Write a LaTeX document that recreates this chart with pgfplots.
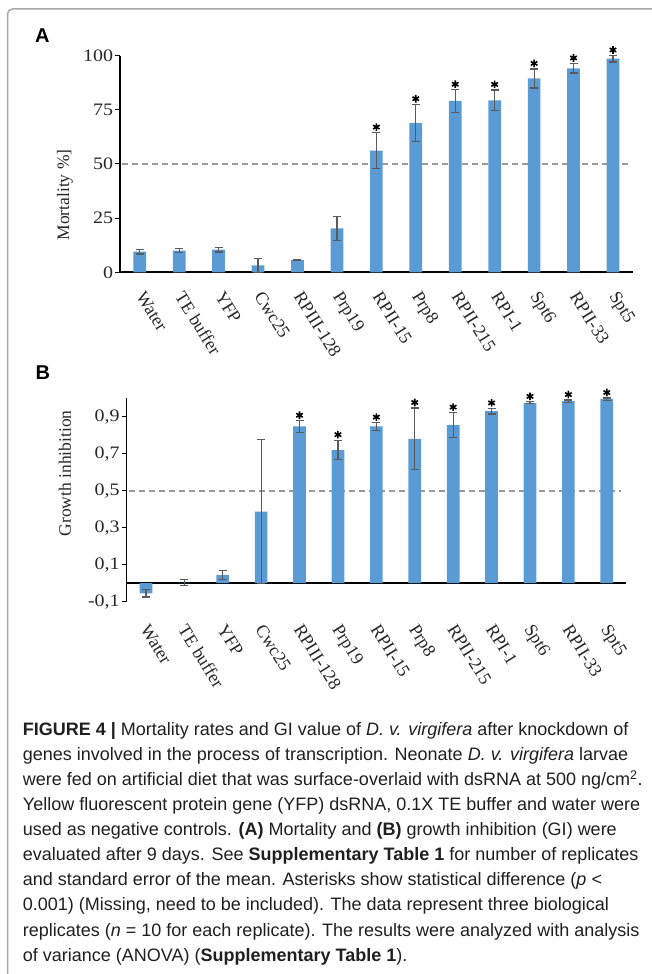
\documentclass[border=0pt]{standalone}
\usepackage{fontspec}
\setmainfont{Liberation Serif}
\newfontfamily\tickfont[FakeStretch=1.14]{Liberation Serif}
\newfontfamily\capfont{Liberation Sans}
\newfontfamily\panelfont{Liberation Sans}
\usepackage{pgfplots}
\pgfplotsset{compat=1.18}
\usepackage{pgfplotstable}
\definecolor{barblue}{HTML}{5B9BD5}
\definecolor{errgray}{HTML}{5A5A5A}
\definecolor{dashgray}{HTML}{999999}
\definecolor{framegray}{HTML}{A8A8A8}

% Panel A: mortality (%)
\pgfplotstableread{
x y e
0 9.5 1.1
1 10.0 0.9
2 10.5 1.1
3 3.2 3.3
4 5.7 0.2
5 20.3 5.6
6 56.2 8.3
7 68.9 8.7
8 79.1 5.2
9 79.4 4.8
10 89.5 4.4
11 94.2 2.2
12 98.6 1.5
}\mortality
\pgfplotstableread{
x top
6 64.5
7 77.6
8 84.3
9 84.2
10 93.9
11 96.4
12 100.1
}\mortstar

% Panel B: growth inhibition
\pgfplotstableread{
x y e
0 -0.055 0.020
1 0.002 0.016
2 0.043 0.025
3 0.387 0.390
4 0.847 0.031
5 0.721 0.052
6 0.847 0.021
7 0.780 0.167
8 0.854 0.068
9 0.930 0.015
10 0.975 0.005
11 0.984 0.006
12 0.995 0.006
}\growth
\pgfplotstableread{
x top
4 0.878
5 0.773
6 0.868
7 0.947
8 0.922
9 0.945
10 0.980
11 0.990
12 1.001
}\growthstar

\pgfplotsset{
  gistyle/.style={
    scale only axis, clip=false,
    xmin=-0.5, xmax=12.5,
    xtick={0,...,12},
    xticklabels={Water, TE buffer, YFP, Cwc25, RPIII-128, Prp19, RPII-15, Prp8, RPII-215, RPI-1, Spt6, RPII-33, Spt5},
    axis x line*=bottom, axis y line*=left,
    xtick style={draw=none},
    ytick style={black, line width=1bp},
    tick align=outside, major tick length=5bp,
    y axis line style={line width=1.2bp},
    yticklabel style={font=\tickfont\fontsize{17.5bp}{20bp}\selectfont, text=black!85, xshift=1.5bp},
    xticklabel style={font=\fontsize{18bp}{20bp}\selectfont, text=black!85},
    label style={font=\fontsize{17.5bp}{20bp}\selectfont, text=black!85},
  },
  barstyle/.style={
    ybar, bar width=12.7bp, fill=barblue, draw=none,
    error bars/.cd, y dir=both, y explicit,
    error bar style={errgray, line width=1.2bp},
    error mark options={errgray, line width=1.2bp, mark size=4bp, rotate=90},
  },
  starstyle/.style={only marks, mark=asterisk, mark size=3.8bp, line width=1.6bp, black,
    mark options={yshift=5.5bp}},
}

\begin{document}
\begin{tikzpicture}
\useasboundingbox (0bp,0bp) rectangle (652bp,974bp);
\draw[framegray, line width=1.5bp, rounded corners=5bp] (7.5bp,-20bp) -- (7.5bp,965bp) -- (700bp,965bp);

\node[anchor=base west, inner sep=0pt, font=\panelfont\bfseries\fontsize{20bp}{20bp}\selectfont] at (35bp,931.3bp) {A};
\node[anchor=base west, inner sep=0pt, font=\panelfont\bfseries\fontsize{20bp}{20bp}\selectfont] at (35.5bp,594bp) {B};

% Panel A
\begin{axis}[gistyle,
  at={(120bp,701.7bp)}, anchor=south west,
  width=512.7bp, height=216.6bp,
  ymin=0, ymax=100,
  ytick={0,25,50,75,100},
  yticklabels={0,25,50,75,100},
  x axis line style={line width=2bp},
  xticklabel style={xshift=6bp, yshift=-12.5bp, rotate=-58, anchor=north west, inner sep=0pt},
  ylabel={Mortality \%]},
  ylabel style={at={(rel axis cs:0,0.357)}, anchor=center, yshift=55bp},
]
\addplot[dashgray, line width=1.8bp, dash pattern=on 6bp off 4bp] coordinates {(-0.45,50) (12.38,50)};
\addplot[barstyle] table[x=x, y=y, y error=e] \mortality;
\addplot[starstyle] table[x=x, y=top] \mortstar;
\end{axis}

% Panel B
\begin{axis}[gistyle,
  at={(126.7bp,372.3bp)}, anchor=south west,
  width=499.3bp, height=203.5bp,
  ymin=-0.1, ymax=1.0,
  ytick={-0.1,0.1,0.3,0.5,0.7,0.9},
  yticklabels={{-0,1},{0,1},{0,3},{0,5},{0,7},{0,9}},
  x axis line style={draw=none},
  xticklabel style={xshift=4bp, yshift=-16bp, rotate=-58, anchor=north west, inner sep=0pt},
  ylabel={Growth inhibition},
  ylabel style={at={(rel axis cs:0,0.631)}, anchor=center, yshift=61.7bp},
]
\addplot[dashgray, line width=1.8bp, dash pattern=on 6bp off 4bp] coordinates {(-0.45,0.5) (12.38,0.5)};
\addplot[black, line width=1.7bp] coordinates {(-0.5,0) (12.5,0)};
\addplot[barstyle] table[x=x, y=y, y error=e] \growth;
\addplot[starstyle] table[x=x, y=top] \growthstar;
\end{axis}

% Caption
\begin{scope}[every node/.style={anchor=base west, inner sep=0pt, text=black!88, font=\capfont\fontsize{18bp}{25bp}\selectfont}]
\node at (22.7bp,238bp) {\textbf{FIGURE 4 |} Mortality rates and GI value of \textit{D. v. virgifera} after knockdown of};
\node at (22.7bp,213bp) {genes involved in the process of transcription. Neonate \textit{D. v. virgifera} larvae};
\node at (22.7bp,188bp) {were fed on artificial diet that was surface-overlaid with dsRNA at 500 ng/cm\textsuperscript{2}.};
\node at (22.7bp,163bp) {Yellow fluorescent protein gene (YFP) dsRNA, 0.1X TE buffer and water were};
\node at (22.7bp,138bp) {used as negative controls. \textbf{(A)} Mortality and \textbf{(B)} growth inhibition (GI) were};
\node at (22.7bp,113bp) {evaluated after 9 days. See \textbf{Supplementary Table 1} for number of replicates};
\node at (22.7bp,88bp) {and standard error of the mean. Asterisks show statistical difference (\textit{p} <};
\node at (22.7bp,63bp) {0.001) (Missing, need to be included). The data represent three biological};
\node at (22.7bp,38bp) {replicates (\textit{n} = 10 for each replicate). The results were analyzed with analysis};
\node at (22.7bp,13bp) {of variance (ANOVA) (\textbf{Supplementary Table 1}).};
\end{scope}
\end{tikzpicture}
\end{document}
